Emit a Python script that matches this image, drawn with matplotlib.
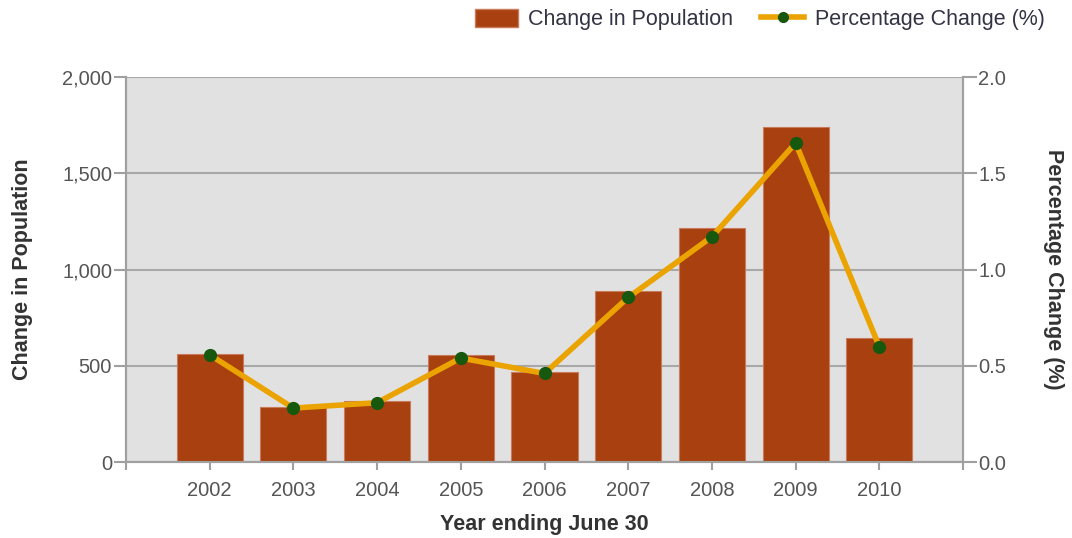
import matplotlib.pyplot as plt
from matplotlib.lines import Line2D
from matplotlib.patches import Patch
from matplotlib.ticker import FuncFormatter

# Datos
anios = [2002, 2003, 2004, 2005, 2006, 2007, 2008, 2009, 2010]
cambio_poblacion = [561, 287, 318, 556, 468, 887, 1214, 1742, 643]
cambio_porcentaje = [0.557, 0.28, 0.308, 0.54, 0.46, 0.855, 1.17, 1.657, 0.599]

plt.rcParams['font.family'] = ['Liberation Sans', 'DejaVu Sans']

color_barra = '#a8400f'
color_linea = '#eaa300'
color_punto = '#17580f'
color_eje = '#a0a0a0'
color_texto = '#555555'

fig = plt.figure(figsize=(10.72, 5.38), dpi=100)
ax = fig.add_axes([126 / 1072, 76 / 538, 837 / 1072, 385 / 538])
ax2 = ax.twinx()

ax.set_facecolor('#e1e1e1')
ax.bar(anios, cambio_poblacion, width=0.79, color=color_barra,
       edgecolor='#c87a5a', linewidth=0.8, zorder=3)
ax2.plot(anios, cambio_porcentaje, color=color_linea, linewidth=4,
         marker='o', markersize=8.5, markerfacecolor=color_punto,
         markeredgecolor=color_punto, zorder=4)

ax.set_xlim(2001, 2011)
ax.set_ylim(0, 2000)
ax2.set_ylim(0, 2.0)
ax.set_xticks(anios)
ax.set_xticks([2001, 2011], minor=True)
ax.set_yticks([0, 500, 1000, 1500, 2000])
ax2.set_yticks([0, 0.5, 1.0, 1.5, 2.0])
ax.yaxis.set_major_formatter(FuncFormatter(lambda v, p: f'{int(v):,}'))
ax2.yaxis.set_major_formatter(FuncFormatter(lambda v, p: f'{v:.1f}'))

ax.grid(axis='y', color='#a8a8a8', linewidth=1.5, zorder=1)
ax.set_axisbelow(True)

for a in (ax, ax2):
    for s in a.spines.values():
        s.set_color(color_eje)
        s.set_linewidth(1.5)
    a.spines['top'].set_visible(False)

ax.tick_params(axis='y', length=9, width=1.5, color=color_eje, pad=1,
               labelsize=14.5, labelcolor=color_texto)
ax2.tick_params(axis='y', length=10, width=1.5, color=color_eje, pad=1,
                labelsize=14.5, labelcolor=color_texto)
ax.tick_params(axis='x', which='both', length=6, width=1.5, color=color_eje,
               pad=8, labelsize=14.5, labelcolor=color_texto)

ax.set_xlabel('Year ending June 30', fontsize=15.5, fontweight='bold',
              color='#333333', labelpad=10)
ax.set_ylabel('Change in Population', fontsize=15.5, fontweight='bold',
              color='#333333', labelpad=21)
ax2.set_ylabel('Percentage Change (%)', fontsize=15.5, fontweight='bold',
               color='#333333', rotation=270, labelpad=42)

manejadores = [
    Patch(facecolor=color_barra, edgecolor='#c87a5a', label='Change in Population'),
    Line2D([0], [0], color=color_linea, linewidth=4, marker='o', markersize=7,
           markerfacecolor=color_punto, markeredgecolor=color_punto,
           label='Percentage Change (%)'),
]
fig.legend(handles=manejadores, loc='center right', bbox_to_anchor=(0.993, 0.963),
           ncol=2, frameon=False, fontsize=15.5, labelcolor='#333344',
           handlelength=2.0, handleheight=0.85, handletextpad=0.5,
           columnspacing=1.3)

fig.savefig('out.png', dpi=100)
